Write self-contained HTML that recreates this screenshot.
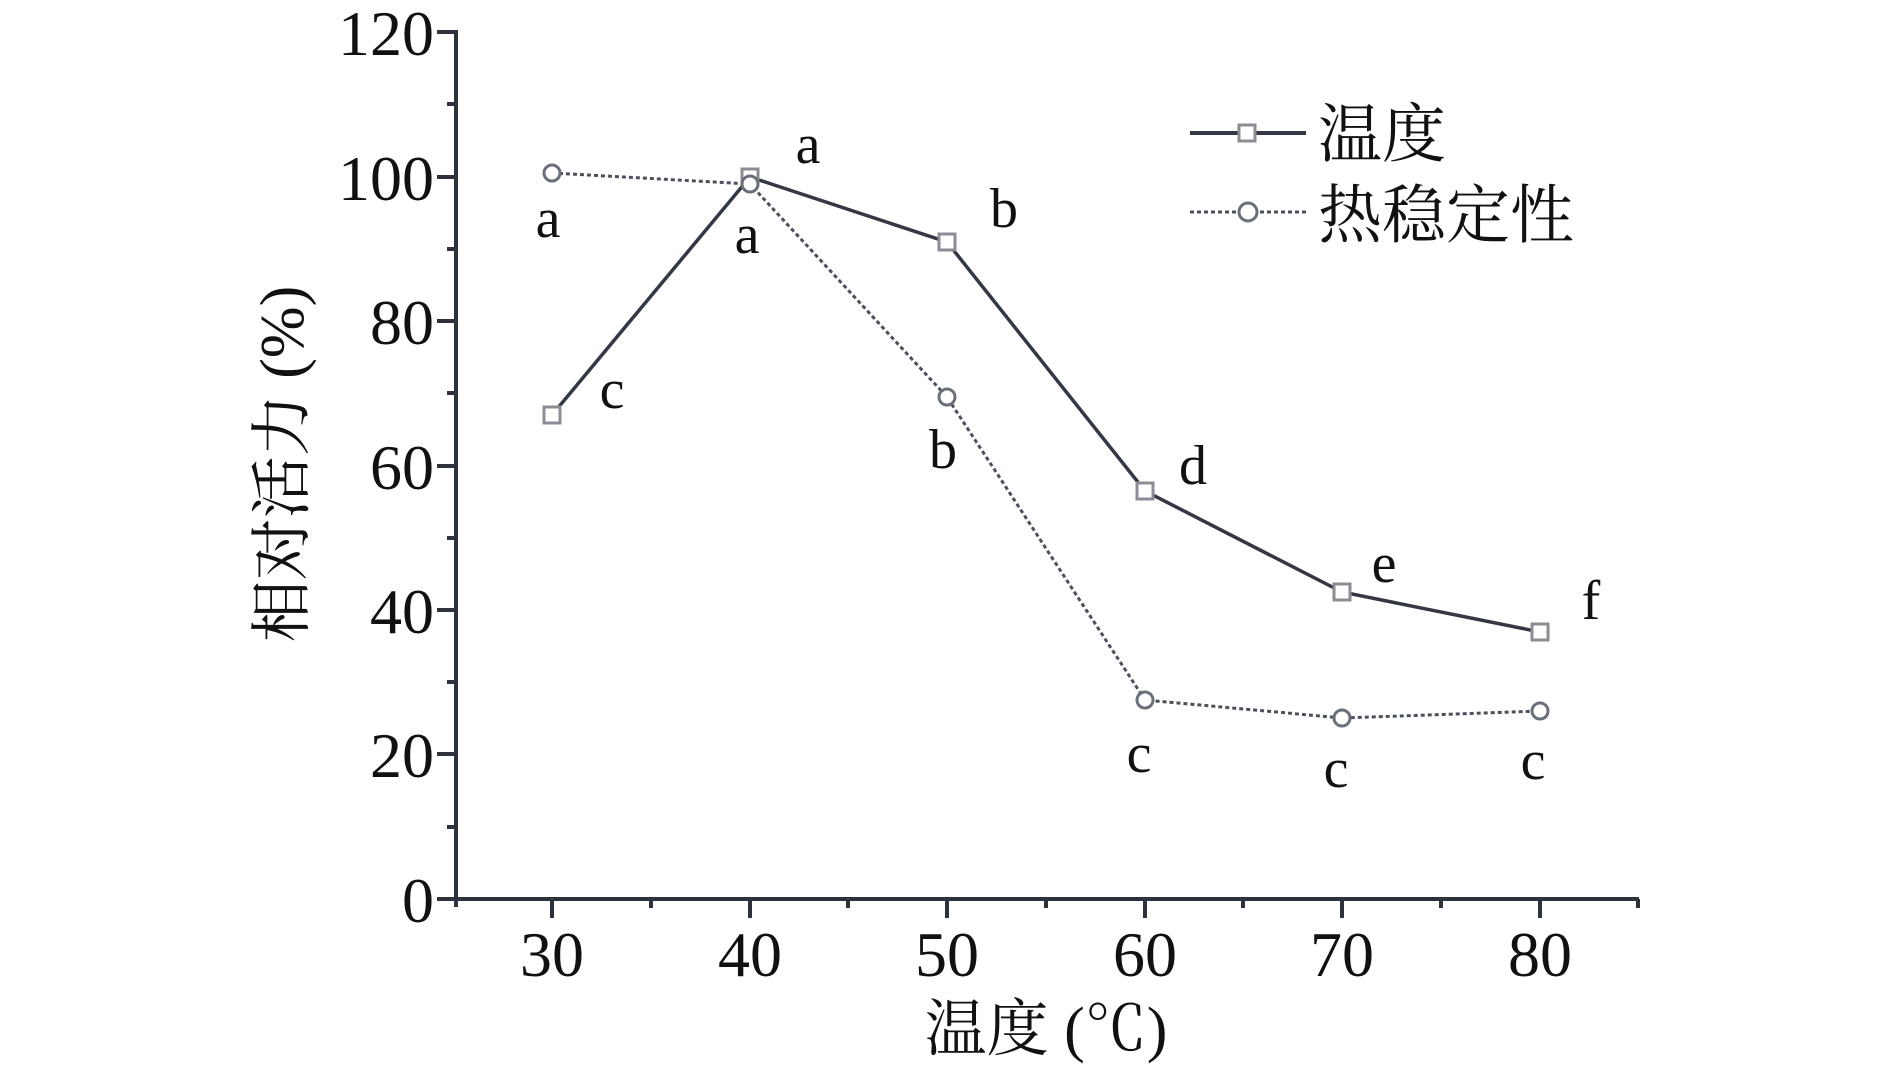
<!DOCTYPE html>
<html><head><meta charset="utf-8"><style>
html,body{margin:0;padding:0;background:#fff;width:1890px;height:1077px;overflow:hidden}
svg{display:block}
.t{font-family:"Liberation Serif","Noto Serif CJK SC",serif;fill:#111}
</style></head><body>
<svg width="1890" height="1077" viewBox="0 0 1890 1077" xmlns="http://www.w3.org/2000/svg">
<g stroke="#2e323c" stroke-width="4" fill="none">
<line x1="456" y1="30" x2="456" y2="907"/>
<line x1="437" y1="899" x2="1639" y2="899"/>
<!-- y major ticks -->
<line x1="437" y1="32" x2="456" y2="32"/>
<line x1="437" y1="177" x2="456" y2="177"/>
<line x1="437" y1="321" x2="456" y2="321"/>
<line x1="437" y1="466" x2="456" y2="466"/>
<line x1="437" y1="610" x2="456" y2="610"/>
<line x1="437" y1="754" x2="456" y2="754"/>
<!-- y minor -->
<line x1="447" y1="104" x2="456" y2="104"/>
<line x1="447" y1="249" x2="456" y2="249"/>
<line x1="447" y1="393" x2="456" y2="393"/>
<line x1="447" y1="538" x2="456" y2="538"/>
<line x1="447" y1="682" x2="456" y2="682"/>
<line x1="447" y1="827" x2="456" y2="827"/>
<!-- x major -->
<line x1="552" y1="899" x2="552" y2="918"/>
<line x1="750" y1="899" x2="750" y2="918"/>
<line x1="947" y1="899" x2="947" y2="918"/>
<line x1="1145" y1="899" x2="1145" y2="918"/>
<line x1="1342" y1="899" x2="1342" y2="918"/>
<line x1="1540" y1="899" x2="1540" y2="918"/>
<!-- x minor -->
<line x1="651" y1="899" x2="651" y2="908"/>
<line x1="848" y1="899" x2="848" y2="908"/>
<line x1="1046" y1="899" x2="1046" y2="908"/>
<line x1="1243" y1="899" x2="1243" y2="908"/>
<line x1="1441" y1="899" x2="1441" y2="908"/>
<line x1="1638" y1="899" x2="1638" y2="908"/>
</g>
<g class="t" font-size="64" text-anchor="end">
<text x="434" y="55">120</text>
<text x="434" y="200">100</text>
<text x="434" y="344">80</text>
<text x="434" y="489">60</text>
<text x="434" y="633">40</text>
<text x="434" y="777">20</text>
<text x="434" y="922">0</text>
</g>
<g class="t" font-size="64" text-anchor="middle">
<text x="552" y="976">30</text>
<text x="750" y="976">40</text>
<text x="947" y="976">50</text>
<text x="1145" y="976">60</text>
<text x="1342" y="976">70</text>
<text x="1540" y="976">80</text>
</g>
<!-- thermal stability dotted -->
<polyline fill="none" stroke="#4a505c" stroke-width="3" stroke-dasharray="4,3" points="552,173 750,184 947,397 1145,700 1342,718 1540,711"/>
<!-- temperature solid -->
<polyline fill="none" stroke="#333844" stroke-width="3.5" points="552,415 750,177 947,242 1145,491 1342,592 1540,632"/>
<g fill="#fff" stroke="#8a8e94" stroke-width="3">
<rect x="544" y="407" width="16" height="16"/>
<rect x="742" y="169" width="16" height="16"/>
<rect x="939" y="234" width="16" height="16"/>
<rect x="1137" y="483" width="16" height="16"/>
<rect x="1334" y="584" width="16" height="16"/>
<rect x="1532" y="624" width="16" height="16"/>
</g>
<g fill="#fff" stroke="#6a707a" stroke-width="3">
<circle cx="552" cy="173" r="8"/>
<circle cx="750" cy="184" r="8"/>
<circle cx="947" cy="397" r="8"/>
<circle cx="1145" cy="700" r="8"/>
<circle cx="1342" cy="718" r="8"/>
<circle cx="1540" cy="711" r="8"/>
</g>
<g class="t" font-size="56" text-anchor="middle" dominant-baseline="central">
<text x="612" y="390">c</text>
<text x="808" y="145">a</text>
<text x="1004" y="209">b</text>
<text x="1193" y="466">d</text>
<text x="1384" y="564">e</text>
<text x="1591" y="601">f</text>
<text x="548" y="219">a</text>
<text x="747" y="235">a</text>
<text x="943" y="450">b</text>
<text x="1139" y="754">c</text>
<text x="1336" y="769">c</text>
<text x="1533" y="761">c</text>
</g>
<!-- legend -->
<line x1="1190" y1="133" x2="1306" y2="133" stroke="#333844" stroke-width="4"/>
<rect x="1239" y="125" width="16" height="16" fill="#fff" stroke="#8a8e94" stroke-width="3"/>
<line x1="1190" y1="212" x2="1306" y2="212" stroke="#4a505c" stroke-width="3" stroke-dasharray="4,3"/>
<circle cx="1248" cy="212" r="9" fill="#fff" stroke="#6a707a" stroke-width="3"/>
<g class="t" font-size="64" dominant-baseline="central">
<text x="1318" y="135">温度</text>
<text x="1318" y="216">热稳定性</text>
</g>
<text class="t" font-size="62" text-anchor="middle" dominant-baseline="central" transform="translate(283,464) rotate(-90)">相对活力 (%)</text>
<text class="t" font-size="62" text-anchor="middle" dominant-baseline="central" x="1046" y="1030">温度 (℃)</text>
</svg>
</body></html>
